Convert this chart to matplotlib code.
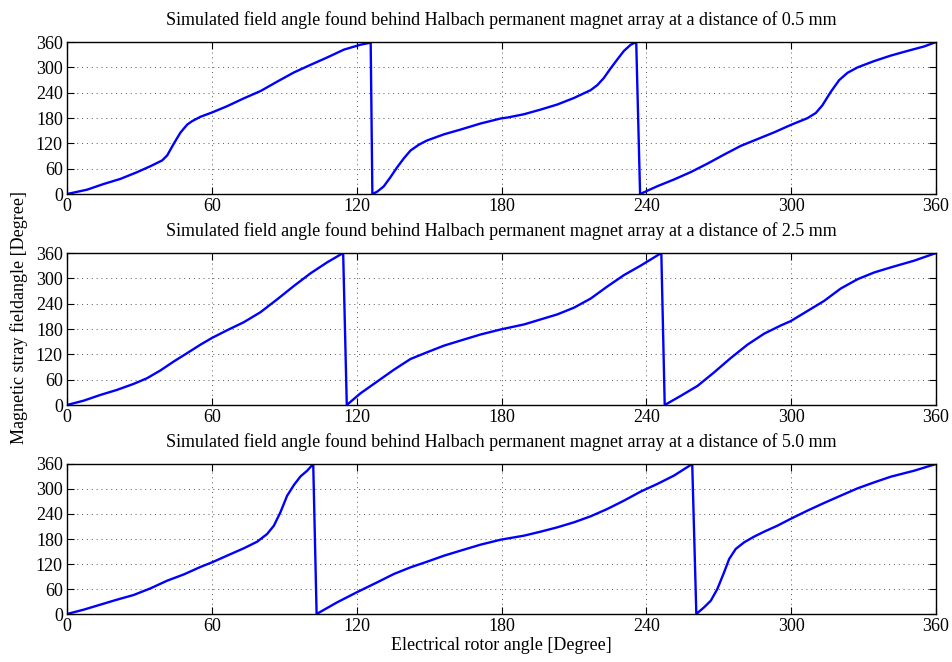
import matplotlib.pyplot as plt

# rotor angle / field angle samples
x_05 = [0, 8.3, 15.2, 22.1, 29, 34.6, 39.4, 41.5, 44.2, 47, 49.8, 51.8, 55.3,
        60, 66.3, 73.2, 80.2, 87, 94, 100.9, 107.8, 114.7, 121.6, 125, 125.8,
        126.5, 128.5, 131.2, 134, 136.8, 139.6, 142.3, 145.8, 149.2, 156.2,
        163, 171.3, 179.7, 182.3, 189.3, 196.2, 203.1, 210, 216.9, 219.7,
        222.4, 225.2, 228, 230.7, 233.5, 235.8, 237.4, 244.5, 251.4, 258.4,
        265.3, 272.2, 279.1, 286, 292.9, 299.8, 306.7, 310.2, 312.9, 316.4,
        319.9, 323.3, 327.5, 334.4, 341.3, 348.2, 355.1, 360]
y_05 = [0, 10.3, 23.8, 35.8, 51.7, 66, 79.5, 91.4, 119, 145.5, 164.5, 172.5, 183,
        193, 208, 226.5, 244, 266, 288, 306, 323.5, 342, 353.7, 357.6, 360,
        0, 5.6, 18, 40, 63.6, 85, 103, 117, 127, 141.5,
        152.6, 167, 179, 181, 189, 200, 212, 227.5, 246, 258,
        275, 297.7, 319, 339, 353.5, 360, 0, 18.4, 34.3, 52,
        72, 93.4, 114, 130, 146, 163.6, 179.6, 192, 210, 242,
        270, 287, 300, 315, 328, 339, 349.6, 360]

x_25 = [0, 6.9, 13.8, 20.7, 27.6, 33.2, 38.7, 44.2, 49.8, 55.3, 60.1, 66.3,
        73.2, 80.2, 87, 94, 100.9, 107.8, 114.4, 115.9, 121.6, 128.5, 135.4,
        142.3, 149.2, 156.2, 163, 171.3, 179.7, 189.3, 196.2, 203.1,
        210, 216.9, 223.8, 230.7, 237.6, 246.2, 247.6, 254.2, 261.2, 268,
        274.9, 281.9, 288.8, 295.7, 299.8, 306.7, 313.6, 320.5, 327.5, 334.4,
        341.3, 351, 360]
y_25 = [0, 10.3, 23.8, 35.8, 50, 63.6, 81.9, 103, 123, 143, 159, 177,
        196, 220, 250, 282, 312, 338, 360, 0, 27.8, 55.6, 83.5,
        109, 125, 140.7, 152.6, 167, 179, 190.8, 202.7, 214.6,
        230.5, 252, 280.6, 307.6, 330, 360, 0, 21.5, 45.3, 77,
        111, 143, 169, 188.4, 198.7, 222.6, 246.4, 275.8, 298, 314,
        326, 342, 360]

x_50 = [0, 6.9, 13.8, 20.7, 27.6, 34.6, 41.5, 48.4, 55.3, 60.1, 66.3, 73.2,
        78.8, 82.9, 85.7, 88.4, 91.2, 94, 96.7, 99.5, 102, 103.4, 111.9, 120,
        128.5, 135.4, 142.3, 149.2, 156.2, 163, 171.3, 179.7, 189.3,
        196.2, 203.1, 210, 216.9, 223.8, 230.7, 237.6, 244.5, 251.4, 259,
        260.7, 263.9, 266.7, 269.4, 272.2, 274.3, 277, 280.5, 284.6, 288.8,
        294.3, 300.2, 306.7, 313.6, 320.5, 327.5, 334.4, 341.3, 351, 360]
y_50 = [0, 10.4, 22.4, 34.4, 45.6, 61.6, 80, 95, 113, 124, 140, 157.6,
        173.6, 192, 212, 244, 284, 309.6, 330, 344, 360, 0, 28, 52,
        76, 96, 112, 125.6, 140, 152, 166.4, 178.4, 188,
        197.6, 208, 220, 234.4, 252, 272, 293.6, 312, 332, 360,
        0, 16, 32, 60, 100, 132, 156, 172, 185.6, 197.6,
        212, 229.6, 248, 266.4, 284, 301.6, 316, 329.6, 344, 360]

distances = ['0.5', '2.5', '5.0']
curves = [(x_05, y_05), (x_25, y_25), (x_50, y_50)]
ticks = [0, 60, 120, 180, 240, 300, 360]

plt.rcParams['font.family'] = 'Liberation Serif'
plt.rcParams['font.size'] = 13

fig = plt.figure(figsize=(9.53, 6.62), dpi=100)
boxes = [[0.0703, 0.7069, 0.9119, 0.2296],
         [0.0703, 0.3882, 0.9119, 0.2296],
         [0.0703, 0.0725, 0.9119, 0.2266]]

for box, (xs, ys), d in zip(boxes, curves, distances):
    ax = fig.add_axes(box)
    ax.plot(xs, ys, color='#0000ff', lw=1.7, solid_joinstyle='round')
    ax.set_xlim(0, 360)
    ax.set_ylim(0, 360)
    ax.set_xticks(ticks)
    ax.set_yticks(ticks)
    ax.tick_params(direction='in', top=True, right=True, length=5, width=0.8,
                   pad=3)
    ax.grid(True, linestyle=(0, (1, 4)), color='#555555', lw=0.7)
    for s in ax.spines.values():
        s.set_linewidth(1.0)
    ax.set_title('Simulated field angle found behind Halbach permanent magnet '
                 'array at a distance of %s mm' % d, fontsize=13, pad=12)

ax.set_xlabel('Electrical rotor angle [Degree]', labelpad=1)
fig.text(0.02, 0.52, 'Magnetic stray fieldangle [Degree]', rotation=90,
         ha='center', va='center')

fig.savefig('out.png', dpi=100)
